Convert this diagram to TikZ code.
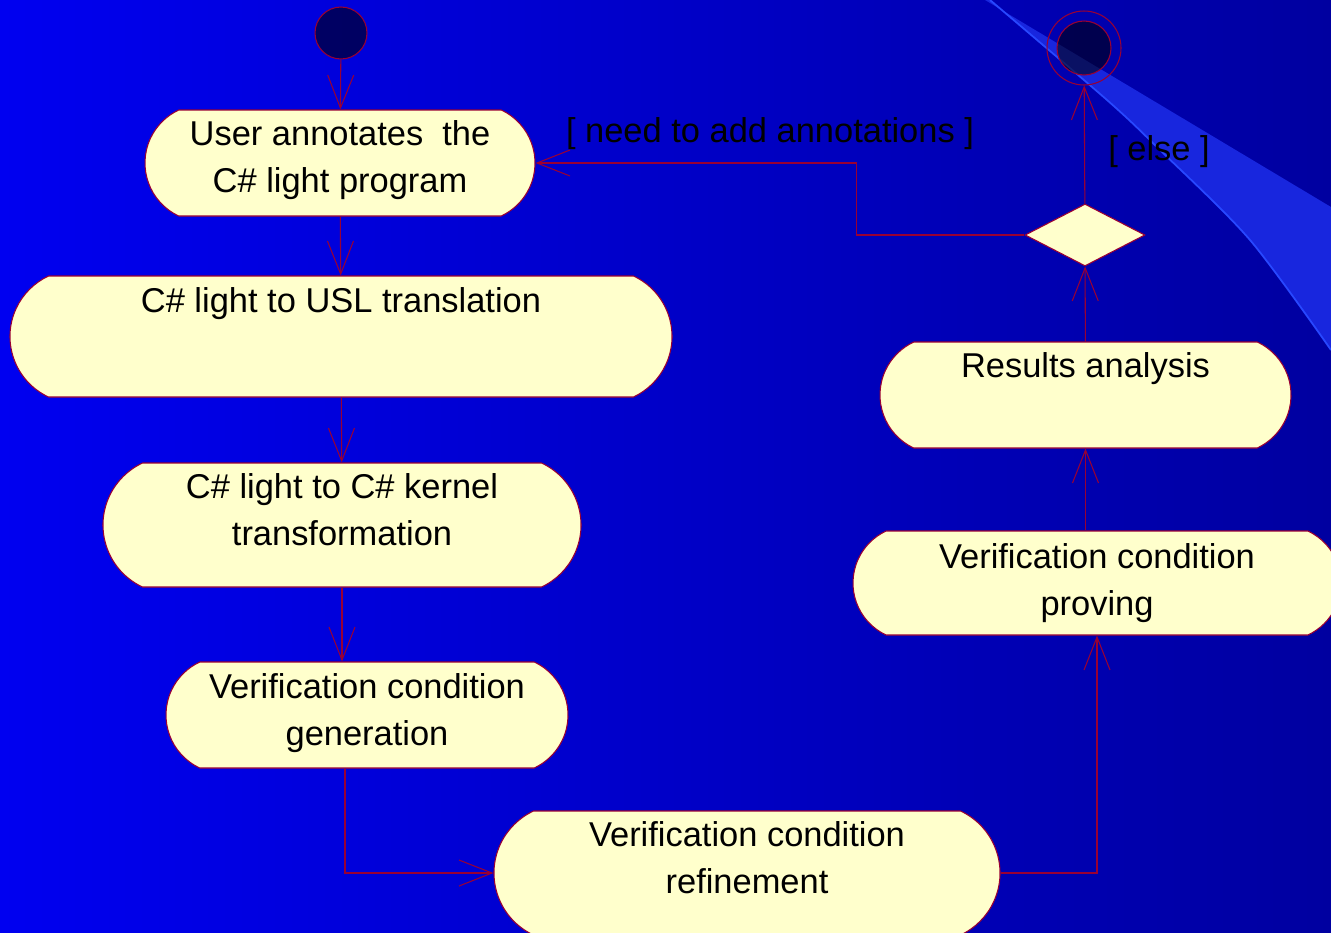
\documentclass[tikz,border=0pt]{standalone}
\usepackage{fontspec}
\setmainfont{Liberation Sans}
\usetikzlibrary{positioning, shapes.misc, shapes.geometric, arrows.meta}
\definecolor{bgleft}{RGB}{0,0,240}
\definecolor{bgright}{RGB}{0,0,160}
\definecolor{streak}{RGB}{24,38,222}
\definecolor{streakedge}{RGB}{40,72,255}
\definecolor{umlred}{RGB}{153,0,51}
\definecolor{umlfill}{RGB}{255,255,204}

\begin{document}
\begin{tikzpicture}[-{Straight Barb[length=6.6mm, width=5.2mm]},
      line width=0.6pt, umlred, font=\fontsize{19.6}{26.7}\selectfont,
      act/.style={rounded rectangle, rounded rectangle arc length=130,
        draw=umlred, fill=umlfill, text=black, inner sep=0pt, align=center},
      blob/.style={circle, draw=umlred, fill=black, fill opacity=0.55, inner sep=0pt},
      guard/.style={anchor=base, text=black}]
      % slide background
      \useasboundingbox (0,0) rectangle (26.62,-18.64);
      \shade[left color=bgleft, right color=bgright] (0,0) rectangle (26.62,-18.64);
      \fill[streak] (19.7,0) -- (26.62,-4.14) -- (26.62,-7.0)
        -- plot[smooth] coordinates {(26.62,-7.0) (25.0,-4.8) (23.2,-3.0) (22.14,-2.0) (19.8,0)} -- cycle;
      \draw[-, streakedge, line width=1pt] plot[smooth] coordinates {(26.62,-7.0) (25.0,-4.8) (23.2,-3.0) (22.14,-2.0) (19.8,0)};
      % left column
      \node[blob, minimum size=1.04cm] (start) at (6.82,-0.66) {};
      \node[act, minimum width=7.8cm, text height=1.64cm, text depth=0.48cm] (act_1) at (6.80,-3.26) {User annotates \ the\\C\# light program};
      \path (start) edge (act_1);
      \node[act, minimum width=13.24cm, text height=0.72cm, text depth=1.70cm] (act_2) at (6.82,-6.73) {C\# light to USL translation};
      \path (act_1) edge (act_2);
      \node[act, minimum width=9.56cm, text height=1.64cm, text depth=0.84cm] (act_3) at (6.84,-10.50) {C\# light to C\# kernel\\transformation};
      \path (act_2) edge (act_3);
      \node[act, minimum width=8.04cm, text height=1.66cm, text depth=0.46cm] (act_4) at (7.34,-14.30) {Verification condition\\generation};
      \path (act_3.south) edge (act_3.south |- act_4.north);
      % bottom
      \node[act, minimum width=10.12cm, text height=1.64cm, text depth=0.84cm] (act_5) at (14.94,-17.46) {Verification condition\\refinement};
      \draw ([xshift=-0.44cm]act_4.south) |- (act_5.west);
      % right column
      \node[act, minimum width=9.76cm, text height=1.68cm, text depth=0.40cm] (act_6) at (21.94,-11.66) {Verification condition\\proving};
      \draw (act_5.east) -| (act_6.south);
      \node[act, minimum width=8.22cm, text height=0.70cm, text depth=1.42cm] (act_7) at (21.71,-7.90) {Results analysis};
      \path (act_7.south |- act_6.north) edge (act_7.south);
      \node[diamond, draw=umlred, fill=umlfill, minimum width=2.4cm, minimum height=1.24cm, inner sep=0pt] (dec) at (21.70,-4.70) {};
      \path (act_7) edge (dec);
      \node[circle, draw=umlred, minimum size=1.48cm, inner sep=0pt] (stop) at (21.68,-0.96) {};
      \node[blob, minimum size=1.08cm] (stop_in) at (stop) {};
      \path (dec) edge (stop);
      % guards
      \draw (dec.west) -- ++(-3.36,0) |- (act_1.east);
      \node[guard] (more) at (15.4,-2.84) {[ need to add annotations ]};
      \node[guard] (done) at (23.18,-3.2) {[ else ]};
\end{tikzpicture}
\end{document}
